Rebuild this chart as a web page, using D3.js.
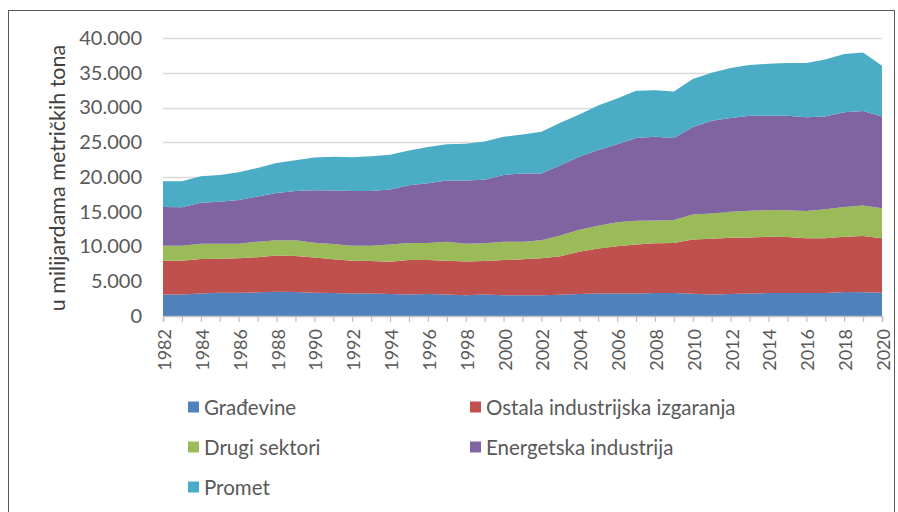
<!DOCTYPE html>
<html>
<head>
<meta charset="utf-8">
<script src="https://cdn.jsdelivr.net/npm/d3@7"></script>
<style>
  html, body { margin: 0; padding: 0; background: #ffffff; }
  svg { display: block; }
  text { font-family: Lato, "Open Sans", sans-serif; }
</style>
</head>
<body>
<svg id="chart" width="898" height="512"></svg>
<script>
// ---------- DATA ----------
const years = d3.range(1982, 2021);
const seriesNames = ["Građevine", "Ostala industrijska izgaranja", "Drugi sektori", "Energetska industrija", "Promet"];
const seriesColors = ["#4f81bd", "#c0504d", "#9bbb59", "#8064a2", "#4bacc6"];

const gradevine = [3100, 3100, 3250, 3350, 3350, 3400, 3500, 3450, 3350, 3300,
                   3250, 3250, 3150, 3100, 3150, 3100, 3000, 3100, 3000, 3000,
                   3000, 3050, 3150, 3250, 3250, 3250, 3300, 3300, 3200, 3100,
                   3150, 3250, 3300, 3300, 3300, 3300, 3450, 3400, 3350];
const ostala = [4850, 4850, 4950, 4900, 4950, 5050, 5200, 5200, 5050, 4850,
                4700, 4650, 4650, 4950, 4900, 4850, 4850, 4800, 5050, 5150,
                5300, 5550, 6100, 6450, 6800, 7050, 7150, 7200, 7800, 8000,
                8100, 8050, 8100, 8050, 7900, 7900, 7950, 8100, 7850];
const drugi = [2150, 2150, 2200, 2150, 2100, 2250, 2200, 2250, 2150, 2200,
               2150, 2200, 2500, 2450, 2450, 2750, 2550, 2550, 2650, 2550,
               2600, 3000, 3150, 3300, 3450, 3400, 3300, 3300, 3600, 3650,
               3750, 3850, 3850, 3850, 3900, 4150, 4300, 4400, 4300];
const energetska = [5600, 5550, 5900, 6050, 6300, 6500, 6800, 7100, 7550, 7700,
                    7900, 7900, 7900, 8300, 8600, 8800, 9100, 9150, 9600, 9800,
                    9600, 10100, 10500, 10900, 11200, 11900, 12050, 11800, 12600, 13350,
                    13500, 13650, 13550, 13600, 13500, 13350, 13600, 13600, 13200];
const promet = [3700, 3750, 3800, 3850, 4000, 4100, 4300, 4400, 4700, 4850,
                4850, 5000, 5000, 5000, 5200, 5200, 5300, 5500, 5500, 5600,
                6000, 6100, 6100, 6400, 6600, 6800, 6700, 6700, 6900, 6900,
                7200, 7300, 7500, 7600, 7800, 8200, 8400, 8400, 7300];

const yTicks = [0, 5000, 10000, 15000, 20000, 25000, 30000, 35000, 40000];
const xLabelYears = d3.range(1982, 2021, 2);
const yTitle = "u milijardama metričkih tona";

// ---------- BUILD TABLE ----------
const seriesValues = [gradevine, ostala, drugi, energetska, promet];
const table = years.map((y, i) => {
  const row = { year: y };
  seriesNames.forEach((n, k) => row[n] = seriesValues[k][i]);
  return row;
});

// ---------- LAYOUT ----------
const svg = d3.select("#chart");
const plot = { left: 163, right: 882, top: 38, bottom: 316 };

const x = d3.scaleLinear().domain([1982, 2020]).range([plot.left, plot.right]);
const y = d3.scaleLinear().domain([0, 40000]).range([plot.bottom, plot.top]);

const loc = d3.formatLocale({ decimal: ",", thousands: ".", grouping: [3], currency: ["", ""] });
const fmt = loc.format(",");

// outer frame
svg.append("rect")
  .attr("x", 8.5).attr("y", 10.5)
  .attr("width", 886).attr("height", 520)
  .attr("fill", "none").attr("stroke", "#595959").attr("stroke-width", 1);

// gridlines
svg.append("g")
  .selectAll("line")
  .data(yTicks.filter(d => d > 0))
  .join("line")
  .attr("x1", plot.left).attr("x2", plot.right)
  .attr("y1", d => Math.round(y(d)) + 0.5).attr("y2", d => Math.round(y(d)) + 0.5)
  .attr("stroke", "#d9d9d9").attr("stroke-width", 1.5);

// stacked areas
const stack = d3.stack().keys(seriesNames);
const stacked = stack(table);
const area = d3.area()
  .x(d => x(d.data.year))
  .y0(d => y(d[0]))
  .y1(d => y(d[1]))
  .curve(d3.curveLinear);

svg.append("g")
  .selectAll("path")
  .data(stacked)
  .join("path")
  .attr("d", area)
  .attr("fill", (d, i) => seriesColors[i]);

// y axis labels
const yAxis = d3.axisLeft(y).tickValues(yTicks).tickFormat(fmt).tickSize(0).tickPadding(21);
const gy = svg.append("g").attr("transform", `translate(${plot.left},0)`).call(yAxis);
gy.select(".domain").remove();
gy.selectAll("text")
  .attr("fill", "#595959")
  .style("font-size", "20px")
  .style("font-family", "Lato, sans-serif");

// x axis
const xAxis = d3.axisBottom(x).tickValues(years).tickSize(6).tickFormat("");
const gx = svg.append("g").attr("transform", `translate(0,${plot.bottom})`).call(xAxis);
gx.select(".domain").attr("stroke", "#bfbfbf").attr("stroke-width", 1.5);
gx.selectAll(".tick line").attr("stroke", "#bfbfbf").attr("stroke-width", 1.2);

// x labels rotated
svg.append("g")
  .selectAll("text")
  .data(xLabelYears)
  .join("text")
  .attr("transform", d => `translate(${x(d) + 1},329) rotate(-90)`)
  .attr("text-anchor", "end")
  .attr("dominant-baseline", "central")
  .attr("fill", "#595959")
  .style("font-size", "18px")
  .text(d => d);

// y title
svg.append("text")
  .attr("transform", `translate(57,178) rotate(-90)`)
  .attr("text-anchor", "middle")
  .attr("dominant-baseline", "central")
  .attr("fill", "#404040")
  .style("font-size", "21.5px")
  .text(yTitle);

// legend
const legendPos = [
  { x: 188, y: 407 }, { x: 470, y: 407 },
  { x: 188, y: 447 }, { x: 470, y: 447 },
  { x: 188, y: 487 }
];
const lg = svg.append("g")
  .selectAll("g")
  .data(seriesNames)
  .join("g")
  .attr("transform", (d, i) => `translate(${legendPos[i].x},${legendPos[i].y})`);
lg.append("rect")
  .attr("x", 0).attr("y", -5.5)
  .attr("width", 11).attr("height", 11)
  .attr("fill", (d, i) => seriesColors[i]);
lg.append("text")
  .attr("x", 16).attr("y", 0)
  .attr("dominant-baseline", "central")
  .attr("fill", "#595959")
  .style("font-size", "20.5px")
  .text(d => d);
</script>
</body>
</html>
